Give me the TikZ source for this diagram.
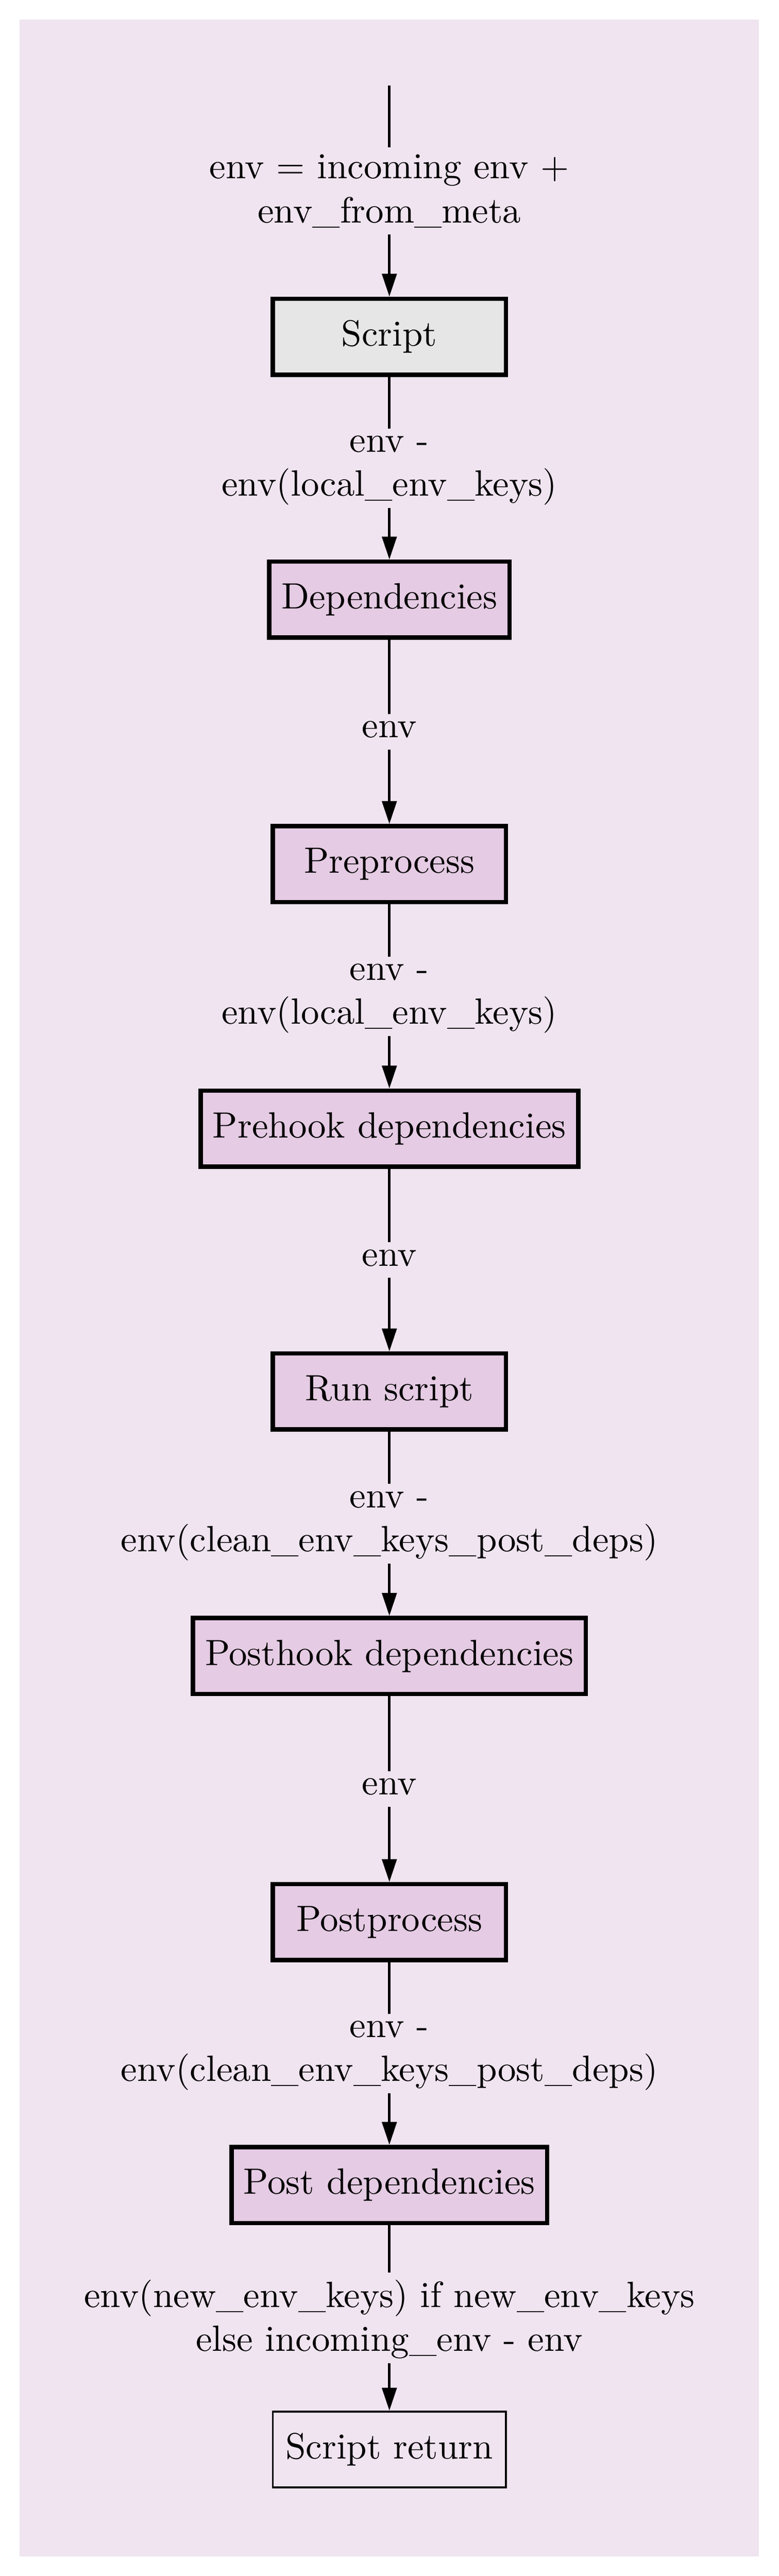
\documentclass[tikz,border=0pt]{standalone}
\usetikzlibrary{arrows.meta,positioning}
\definecolor{pbg}{HTML}{F0E4F0}
\definecolor{pbox}{HTML}{E5CBE3}
\definecolor{pgray}{HTML}{E6E6E6}

\begin{document}
\begin{tikzpicture}[x=0.0158cm, y=-0.0158cm,
  stage/.style={draw, line width=1.2pt, fill=pbox, minimum width=2.24cm, minimum height=0.73cm, align=center},
  ret/.style={draw, line width=0.5pt, minimum width=2.24cm, minimum height=0.73cm},
  arr/.style={-{Triangle[length=2.2mm, width=1.4mm]}, line width=0.7pt},
  lbl/.style={fill=pbg, align=center, inner sep=2pt, text depth=0.3ex},
]
  \useasboundingbox (0,0) rectangle (474,1568);
  \fill[pbg] (12,12) rectangle (462,1556);

  \coordinate (top) at (237,52);
  \node[stage, fill=pgray] (script) at (237,205) {Script};
  \node[stage] (deps) at (237,365) {Dependencies};
  \node[stage] (pre) at (237,526) {Preprocess};
  \node[stage] (prehook) at (237,687) {Prehook dependencies};
  \node[stage] (run) at (237,847) {Run script};
  \node[stage] (posthook) at (237,1008) {Posthook dependencies};
  \node[stage] (post) at (237,1170) {Postprocess};
  \node[stage] (postdeps) at (237,1330) {Post dependencies};
  \node[ret] (return) at (237,1491) {Script return};

  \draw[arr] (top) -- node[lbl] {env = incoming env +\\env\_from\_meta} (script);
  \draw[arr] (script) -- node[lbl] {env -\\env(local\_env\_keys)} (deps);
  \draw[arr] (deps) -- node[lbl] {env} (pre);
  \draw[arr] (pre) -- node[lbl] {env -\\env(local\_env\_keys)} (prehook);
  \draw[arr] (prehook) -- node[lbl] {env} (run);
  \draw[arr] (run) -- node[lbl] {env -\\env(clean\_env\_keys\_post\_deps)} (posthook);
  \draw[arr] (posthook) -- node[lbl] {env} (post);
  \draw[arr] (post) -- node[lbl] {env -\\env(clean\_env\_keys\_post\_deps)} (postdeps);
  \draw[arr] (postdeps) -- node[lbl] {env(new\_env\_keys) if new\_env\_keys\\else incoming\_env - env} (return);
\end{tikzpicture}
\end{document}
